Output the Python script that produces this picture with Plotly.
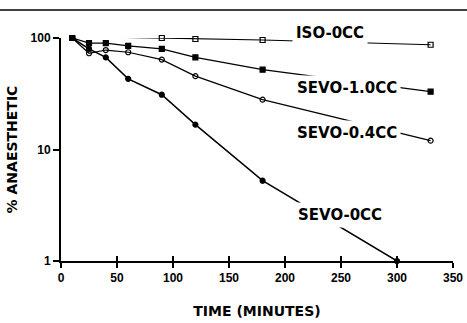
import plotly.graph_objects as go

# Sampling times (minutes)
time_min = [10, 25, 40, 60, 90, 120, 180, 330]
time_sevo0 = [10, 25, 40, 60, 90, 120, 180, 300]

# Percent anaesthetic remaining
iso_0cc = [100, 104, 102, 101, 100, 98, 96, 87]
sevo_10cc = [100, 90, 90, 85, 80, 67, 52, 33]
sevo_04cc = [100, 73, 78, 74.5, 64, 45.5, 28, 12]
sevo_0cc = [100, 80, 67, 43, 31, 16.7, 5.25, 1.0]

x_ticks = [0, 50, 100, 150, 200, 250, 300, 350]
y_ticks = [1, 10, 100]

series = [
    ("ISO-0CC", time_min, iso_0cc, "square-open", 5, 1.2),
    ("SEVO-1.0CC", time_min, sevo_10cc, "square", 5, 1.3),
    ("SEVO-0.4CC", time_min, sevo_04cc, "circle-open", 5, 1.2),
    ("SEVO-0CC", time_sevo0, sevo_0cc, "circle", 5, 1.5),
]

# label text, x (minutes), y (paper fraction of plot height)
labels = [
    ("ISO-0CC", 240, 1.024),
    ("SEVO-1.0CC", 255.5, 0.775),
    ("SEVO-0.4CC", 255.5, 0.573),
    ("SEVO-0CC", 249, 0.206),
]

fig = go.Figure()
for name, xs, ys, sym, size, lw in series:
    fig.add_trace(go.Scatter(
        x=xs, y=ys, mode="lines+markers", name=name,
        line=dict(color="black", width=lw),
        marker=dict(symbol=sym, size=size, color="black",
                    line=dict(color="black", width=1.2)),
        cliponaxis=False, showlegend=False,
    ))

# invisible trace to activate the secondary x axis carrying crossing ticks
fig.add_trace(go.Scatter(x=[0], y=[1], xaxis="x2", mode="markers",
                         marker=dict(opacity=0), showlegend=False,
                         hoverinfo="skip"))

label_font = dict(family="DejaVu Sans", size=15, color="black", weight="bold")
for text, lx, ly in labels:
    fig.add_annotation(x=lx, y=ly, xref="x", yref="paper", text=text,
                       xanchor="center", yanchor="middle",
                       showarrow=False, font=label_font,
                       bgcolor="white", borderpad=3)

tick_font = dict(family="Liberation Sans", size=12, color="black", weight="bold")
title_font = dict(family="DejaVu Sans", size=14, color="black", weight="bold")

fig.update_layout(
    width=467, height=323,
    margin=dict(l=61, r=14, t=38, b=62),
    paper_bgcolor="white", plot_bgcolor="white",
    xaxis=dict(
        range=[0, 350], tickvals=x_ticks, ticktext=[str(v) for v in x_ticks],
        showgrid=False, zeroline=False, showline=True, linecolor="black",
        linewidth=2, ticks="outside", ticklen=5, tickwidth=1.5,
        tickcolor="black", tickfont=tick_font, automargin=False,
        title=dict(text="TIME (MINUTES)", font=title_font, standoff=22),
    ),
    xaxis2=dict(
        range=[0, 350], tickvals=x_ticks, overlaying="x", side="bottom",
        showticklabels=False, showgrid=False, zeroline=False,
        ticks="inside", ticklen=5, tickwidth=1.5, tickcolor="black",
        showline=False, automargin=False,
    ),
    yaxis=dict(
        type="log", range=[0, 2], tickvals=y_ticks,
        ticktext=[str(v) for v in y_ticks],
        showgrid=False, zeroline=False, showline=True, linecolor="black",
        linewidth=2, ticks="outside", ticklen=6, tickwidth=1.5,
        tickcolor="black", tickfont=tick_font, automargin=False,
        title=dict(text="% ANAESTHETIC", font=title_font, standoff=10),
    ),
)

# rule across the top of the page
fig.add_shape(type="line", xref="paper", yref="paper",
              x0=-0.16, x1=1.04, y0=1.126, y1=1.126,
              line=dict(color="black", width=1.5), layer="above")

fig.write_html("out.html")
